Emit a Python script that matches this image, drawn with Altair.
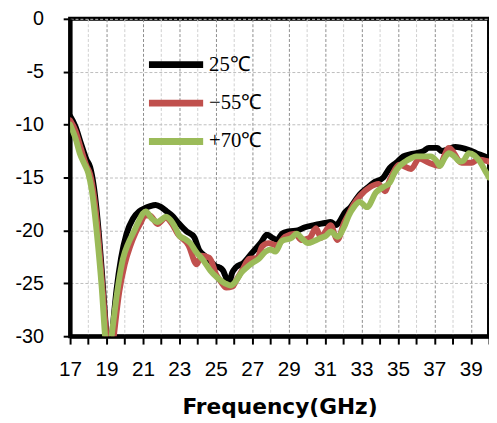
import altair as alt
import pandas as pd

# ---- data ----
series_names = ["25℃", "−55℃", "+70℃"]
series_colors = ["#000000", "#C0504D", "#9BBB59"]

x_ticks = list(range(17, 41))
y_ticks = [0, -5, -10, -15, -20, -25, -30]

freq_25 = [17.0, 17.3, 17.6, 17.9, 18.1, 18.3, 18.5, 18.75, 19.0, 19.15, 19.3, 19.55, 19.8, 20.1, 20.45,
           20.8, 21.1, 21.4, 21.7, 22.0, 22.3, 22.6, 22.9, 23.4, 23.8, 24.1, 24.4, 24.7, 25.0, 25.2,
           25.4, 25.6, 25.75, 25.9, 26.1, 26.5, 27.0, 27.5, 27.8, 28.1, 28.35, 28.65, 29.0, 29.5, 29.9,
           30.4, 31.0, 31.3, 31.6, 31.85, 32.05, 32.4, 32.9, 33.3, 33.65, 34.2, 34.55, 34.9, 35.3, 35.7,
           36.0, 36.4, 36.7, 37.15, 37.4, 37.8, 38.15, 38.5, 38.9, 39.3, 39.6, 40.0]
s11_25 = [-9.2, -10.2, -11.8, -13.3, -14.0, -15.8, -18.8, -24.0, -30.0, -33.0, -30.0, -25.6, -22.6, -20.3, -18.9,
          -18.2, -17.9, -17.7, -17.6, -17.8, -18.2, -18.6, -19.2, -20.1, -20.6, -21.9, -22.4, -22.9, -23.4, -23.5,
          -23.8, -24.6, -24.8, -24.0, -23.5, -23.1, -22.1, -21.1, -20.4, -20.7, -20.9, -20.3, -20.1, -20.0, -19.7,
          -19.5, -19.3, -19.2, -19.5, -19.0, -18.4, -17.8, -16.6, -16.0, -15.5, -15.0, -14.1, -13.6, -13.0, -12.8,
          -12.7, -12.5, -12.2, -12.2, -12.5, -12.3, -12.1, -12.2, -12.4, -12.7, -12.9, -13.2]

freq_m55 = [17.0, 17.3, 17.6, 17.9, 18.1, 18.3, 18.5, 18.75, 19.0, 19.2, 19.4, 19.7, 20.0, 20.3, 20.6,
            20.9, 21.1, 21.4, 21.8, 22.25, 22.6, 22.9, 23.5, 23.95, 24.2, 24.65, 25.03, 25.3, 25.57, 25.93,
            26.1, 26.47, 26.83, 27.28, 27.55, 27.9, 28.36, 28.8, 29.35, 29.7, 30.15, 30.5, 30.78, 31.05, 31.3,
            31.68, 32.04, 32.22, 32.58, 32.94, 33.48, 33.93, 34.29, 34.56, 35.1, 35.72, 36.17, 36.7, 37.25, 37.8,
            38.5, 39.05, 39.4, 40.0]
s11_m55 = [-9.6, -10.6, -12.3, -13.9, -14.7, -16.6, -19.6, -24.8, -30.0, -33.0, -30.0, -25.8, -23.2, -21.5, -20.2,
           -19.2, -18.6, -18.6, -19.4, -18.8, -19.4, -20.3, -21.4, -23.2, -22.4, -22.6, -24.2, -24.9, -25.4, -25.3,
           -24.8, -23.7, -22.7, -22.6, -21.5, -21.2, -21.4, -20.6, -20.3, -20.9, -20.7, -19.8, -20.7, -20.0, -19.5,
           -20.9, -19.3, -18.7, -17.5, -16.7, -15.9, -15.6, -16.3, -15.2, -13.8, -14.2, -13.2, -13.6, -13.9, -12.2,
           -13.6, -13.6, -13.3, -13.5]

freq_70 = [17.0, 17.3, 17.55, 17.75, 18.0, 18.2, 18.47, 18.74, 18.92, 19.1, 19.28, 19.45, 19.64, 19.9, 20.2,
           20.45, 20.75, 21.0, 21.15, 21.5, 21.8, 22.0, 22.25, 22.5, 22.8, 23.0, 23.3, 23.6, 23.9, 24.3,
           24.7, 25.1, 25.5, 25.8, 26.1, 26.4, 26.7, 27.0, 27.35, 27.73, 28.0, 28.27, 28.63, 29.17, 29.44,
           29.75, 30.06, 30.4, 30.78, 31.05, 31.32, 31.68, 32.04, 32.3, 32.58, 32.9, 33.3, 33.8, 34.2, 34.55,
           34.8, 35.1, 35.4, 35.7, 36.0, 36.4, 36.8, 37.1, 37.3, 37.55, 37.8, 38.1, 38.4, 38.6, 38.9,
           39.2, 39.5, 39.8, 40.0]
s11_70 = [-10.0, -11.3, -12.8, -13.6, -14.6, -16.3, -20.3, -25.5, -30.0, -33.0, -30.0, -27.6, -25.2, -22.7, -21.2,
          -20.3, -19.2, -18.4, -18.2, -18.9, -19.2, -19.0, -18.7, -19.0, -19.8, -20.5, -20.8, -21.2, -22.0, -22.8,
          -23.8, -24.5, -25.0, -25.2, -24.8, -24.0, -23.5, -23.1, -22.7, -22.0, -21.8, -22.0, -21.0, -20.7, -20.3,
          -20.8, -21.2, -21.0, -20.7, -20.5, -20.1, -20.6, -19.7, -18.6, -17.8, -17.3, -17.8, -16.4, -15.9, -15.5,
          -14.6, -13.9, -13.5, -13.2, -13.0, -13.0, -13.0, -13.4, -13.9, -13.2, -12.7, -13.0, -13.5, -13.4, -12.7,
          -12.9, -13.5, -14.4, -15.0]

# ---- build table ----
frames = []
for name, f, v in zip(series_names, [freq_25, freq_m55, freq_70], [s11_25, s11_m55, s11_70]):
    frames.append(pd.DataFrame({"freq": f, "s11": v, "series": name}))
df = pd.concat(frames, ignore_index=True)

color_scale = alt.Scale(domain=series_names, range=series_colors)

x_axis = alt.Axis(
    values=x_ticks,
    labelExpr="datum.value % 2 == 1 ? datum.label : ''",
    labelOverlap=False,
    labelFlush=False,
    title="Frequency(GHz)",
    grid=True,
    gridColor={"condition": {"test": "datum.value % 2 == 1", "value": "#8c8c8c"}, "value": "#cfcfcf"},
    gridDash=[3, 2],
    gridWidth=1,
    domainColor="black",
    domainWidth=4,
    tickColor="black",
    tickWidth=2,
    tickSize=8,
    labelFont="Liberation Sans",
    labelFontSize=21,
    labelColor="black",
    labelPadding=15,
    titleFont="DejaVu Sans",
    titleFontSize=22,
    titleFontWeight="bold",
    titleColor="black",
    titlePadding=17,
)

y_axis = alt.Axis(
    values=y_ticks,
    labelExpr="replace(datum.label, '\u2212', '-')",
    title=None,
    grid=True,
    gridColor="#bdbdbd",
    gridDash=[3, 2],
    gridWidth=1,
    domainColor="black",
    domainWidth=4,
    tickColor="black",
    tickWidth=2,
    tickSize=7,
    labelFont="Liberation Sans",
    labelFontSize=20,
    labelColor="black",
    labelPadding=20,
)

legend = alt.Legend(
    orient="none",
    legendX=90,
    legendY=29,
    title=None,
    symbolType="M-2,0H2",
    symbolSize=756,
    symbolStrokeWidth=7,
    symbolFillColor="transparent",
    labelFont="Liberation Serif",
    labelFontSize=21,
    labelColor="black",
    labelOffset=16,
    rowPadding=7,
)

base = alt.Chart(df)


def series_layer(name):
    return base.transform_filter(alt.datum.series == name).mark_line(
        strokeWidth=6, clip=True, interpolate="monotone", strokeCap="round", strokeJoin="round"
    ).encode(
        x=alt.X("freq:Q", scale=alt.Scale(domain=[17, 40], nice=False, zero=False), axis=x_axis),
        y=alt.Y("s11:Q", scale=alt.Scale(domain=[-30, 0], nice=False, zero=False), axis=y_axis),
        color=alt.Color("series:N", scale=color_scale, sort=series_names, legend=legend),
    )


chart = alt.layer(*[series_layer(n) for n in series_names]).properties(
    width=425,
    height=322,
    autosize="none",
    padding={"left": 63, "top": 8, "right": 0, "bottom": 80},
    background="white",
).configure_view(stroke="black", strokeWidth=4)

chart.save("out.html", embed_options={"renderer": "svg", "actions": False})
